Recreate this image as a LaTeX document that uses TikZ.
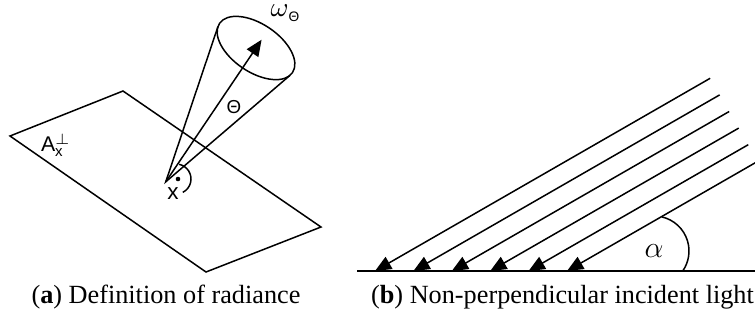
\documentclass[tikz,border=0pt]{standalone}
\usepackage{fontspec}
\setmainfont{Liberation Serif}
\newfontfamily\labelfont{Liberation Sans}
\usetikzlibrary{arrows.meta,calc}
\tikzset{
  edge/.style={line width=0.6pt},
  ray/.style={edge,-{Triangle[length=6.5pt,width=5.5pt]}},
  lab/.style={font=\labelfont\fontsize{8.5}{10}\selectfont,inner sep=0pt},
  capt/.style={font=\fontsize{10.5}{12}\selectfont,inner sep=0pt,anchor=base},
}

\begin{document}
\begin{tikzpicture}[x=0.4pt,y=0.4pt]
  \useasboundingbox (0,0) rectangle (755,323);
  % (a) surface patch and solid angle
  \coordinate (p1) at (10,187);
  \coordinate (p2) at (123,232);
  \coordinate (p3) at (321,96);
  \coordinate (p4) at (206,51);
  \draw[edge] (p1) -- (p2) -- (p3) -- (p4) -- cycle;
  \begin{scope}[shift={(256,275)},rotate=-34]
    \coordinate (apex) at (0,-161.4);
    \coordinate (t1) at (-43.5,-3.6);
    \coordinate (t2) at (43.5,-3.6);
    \coordinate (dir) at (0,10);
    \draw[edge] (0,0) ellipse [x radius=44,y radius=24];
  \end{scope}
  \draw[edge] (t1) -- (apex) -- (t2);
  \draw[ray] (apex) -- (dir);
  \coordinate (dot) at (176,144);
  \draw[edge] ($(dot)+(78:15)$) arc[start angle=78,end angle=-63,radius=15];
  \fill (178,144) circle[radius=2.3];
  \node[lab,font=\labelfont\fontsize{9}{10}\selectfont] (xlab) at (173,129) {x};
  \node[lab,font=\labelfont\fontsize{7.5}{9}\selectfont] (theta) at (234,216) {Θ};
  \node[inner sep=0pt,anchor=base west] (omega) at (270,307) {\fontsize{11}{12}\selectfont$\omega$\raisebox{-2.2pt}{\labelfont\fontsize{5.5}{6}\selectfont Θ}};
  \node[lab] (area) at (56,178) {A$^{\perp}_{\mbox{\labelfont\fontsize{6}{7}\selectfont x}}$};
  % (b) parallel rays hitting the ground
  \coordinate (g1) at (357,52);
  \coordinate (g2) at (755,52);
  \draw[edge] (g1) -- (g2);
  \foreach \i in {0,...,5} {
    \coordinate (h\i) at (375+38.4*\i,52);
    \draw[ray] ($(h\i)+(29.9:386.6-33.3*\i)$) -- (h\i);
  }
  \coordinate (ac) at (654,72);
  \draw[edge] ($(ac)+(77:35)$) arc[start angle=77,end angle=-35,radius=35];
  \node[font=\large] (alpha) at (ac) {$\alpha$};
  % captions
  \node[capt] (capa) at (166,20) {(\textbf{a}) Definition of radiance};
  \node[capt] (capb) at (562.5,20) {(\textbf{b}) Non-perpendicular incident light};
\end{tikzpicture}
\end{document}
